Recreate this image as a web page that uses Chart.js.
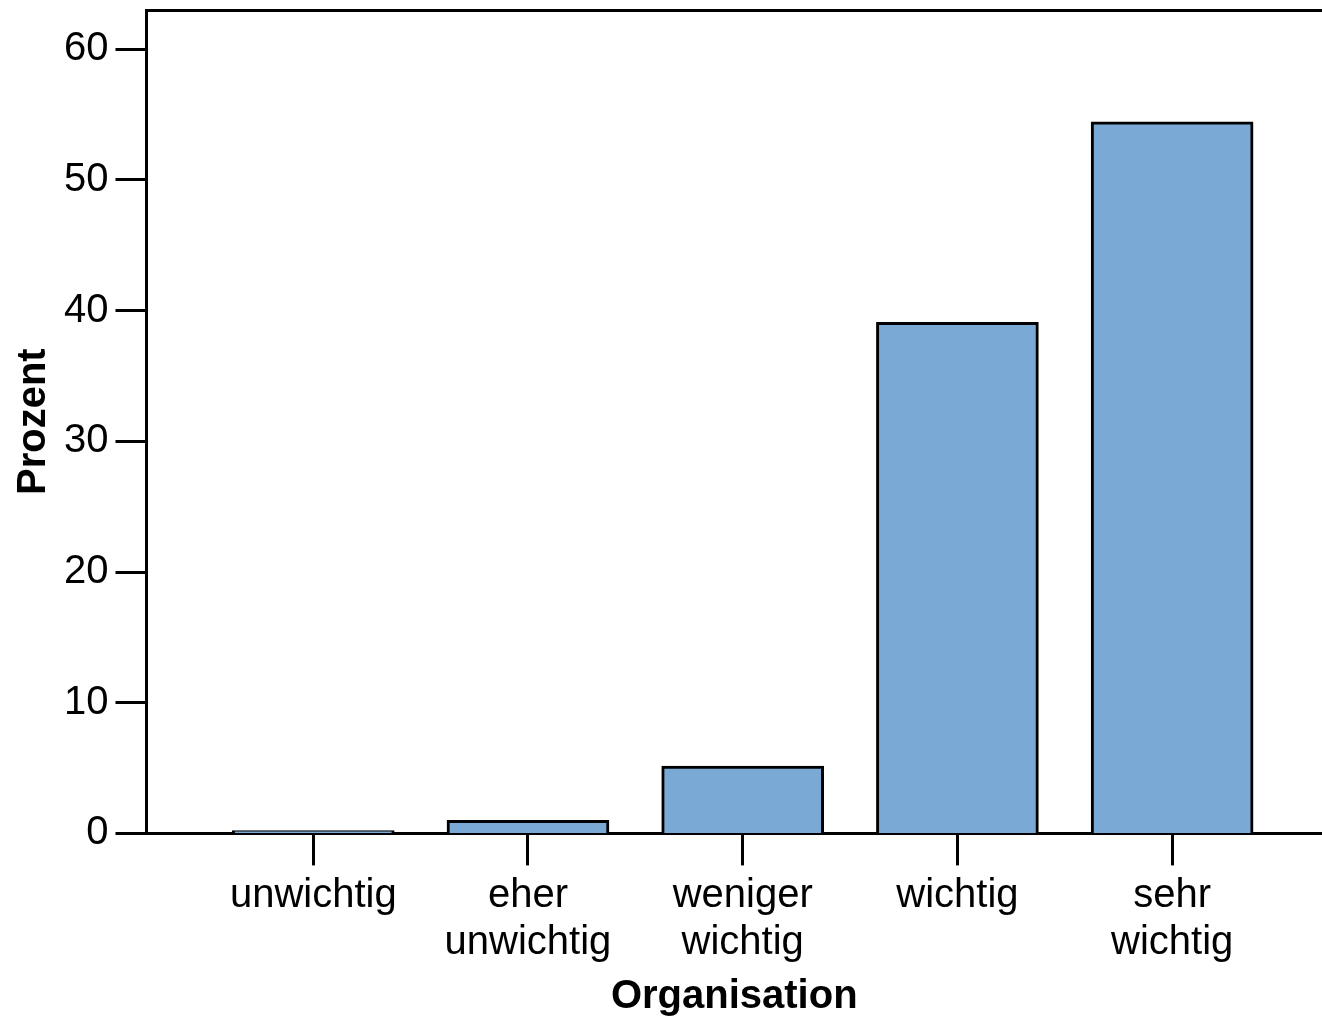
<!DOCTYPE html>
<html lang="de">
    <head>
        <meta charset="UTF-8">
        <title>Organisation</title>
        <script src="https://cdn.jsdelivr.net/npm/chart.js"></script>
        <style>
            html, body { margin: 0; padding: 0; background: #fff; overflow: hidden; }
            #wrap { width: 1322px; height: 1018px; }
        </style>
    </head>
    <body>
        <div id="wrap"><canvas id="orgChart" width="1322" height="1018"></canvas></div>

        <script>
            // Daten
            const kategorien = [
                'unwichtig',
                ['eher', 'unwichtig'],
                ['weniger', 'wichtig'],
                'wichtig',
                ['sehr', 'wichtig']
            ];
            const prozent = [0.22, 1.0, 5.15, 39.1, 54.45];
            const yTicks = [0, 10, 20, 30, 40, 50, 60];

            const schrift = "'Liberation Sans', Arial, sans-serif";
            const punkte = prozent.map((p, i) => ({x: i, y: p}));

            const ctx = document.getElementById('orgChart').getContext('2d');
            new Chart(ctx, {
                type: 'bar',
                data: {
                    datasets: [{
                            label: 'Prozent',
                            data: punkte,
                            backgroundColor: '#7BA9D5',
                            borderColor: '#000',
                            borderWidth: 3,
                            barThickness: 162
                        }]
                },
                options: {
                    responsive: false,
                    animation: false,
                    layout: {padding: {left: 0, top: 0, right: 0, bottom: 0}},
                    plugins: {legend: {display: false}, tooltip: {enabled: false}},
                    scales: {
                        x: {
                            type: 'linear',
                            min: -0.7767,
                            max: 4.698,
                            offset: false,
                            z: 1,
                            afterBuildTicks: (axis) => { axis.ticks = kategorien.map((k, i) => ({value: i})); },
                            ticks: {
                                callback: (v) => kategorien[v],
                                color: '#000',
                                font: {family: schrift, size: 40, lineHeight: 1.17},
                                padding: 7,
                                maxRotation: 0,
                                autoSkip: false
                            },
                            grid: {offset: false, drawOnChartArea: false, drawTicks: true, tickLength: 32, tickColor: '#000', tickWidth: 3},
                            border: {display: true, color: '#000', width: 3},
                            title: {
                                display: true,
                                text: 'Organisation',
                                color: '#000',
                                font: {family: schrift, size: 40, weight: 'bold', lineHeight: 1.05},
                                padding: {top: 3, bottom: 0}
                            }
                        },
                        xTop: {
                            type: 'linear',
                            position: 'top',
                            min: -0.7767,
                            max: 4.698,
                            offset: false,
                            z: 1,
                            ticks: {display: false},
                            grid: {drawOnChartArea: false, drawTicks: false},
                            border: {display: true, color: '#000', width: 3}
                        },
                        y: {
                            min: 0,
                            max: 63,
                            z: 1,
                            afterBuildTicks: (axis) => { axis.ticks = yTicks.map(v => ({value: v})); },
                            ticks: {
                                color: '#000',
                                // kleine lineHeight, damit oben kein Platz reserviert wird
                                font: {family: schrift, size: 40, lineHeight: 0.15},
                                padding: 7
                            },
                            grid: {drawOnChartArea: false, drawTicks: true, tickLength: 31, tickColor: '#000', tickWidth: 3},
                            border: {display: true, color: '#000', width: 3},
                            title: {
                                display: true,
                                text: 'Prozent',
                                color: '#000',
                                font: {family: schrift, size: 40, weight: 'bold', lineHeight: 1.15},
                                padding: {top: 11, bottom: 0}
                            }
                        }
                    }
                }
            });
        </script>
    </body>
</html>
